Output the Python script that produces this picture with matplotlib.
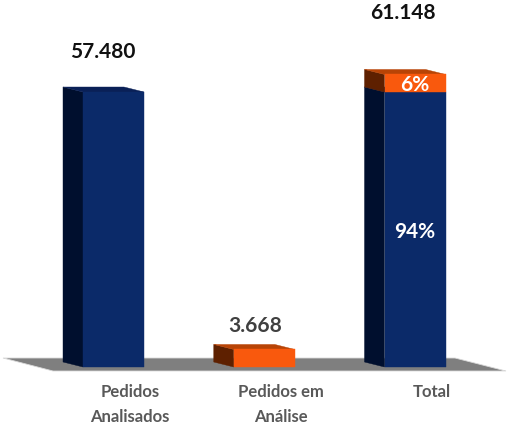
import matplotlib.pyplot as plt
from matplotlib.patches import Polygon

plt.rcParams['font.family'] = ['Lato', 'DejaVu Sans']

# Dados
categorias = ["Pedidos\nAnalisados", "Pedidos em\nAnálise", "Total"]
analisados = [57480, 0, 57480]
em_analise = [0, 3668, 3668]
rotulos_total = ["57.480", "3.668", "61.148"]
pct_total = ["94%", "6%"]

AZUL = ("#0b2a69", "#000f2e", "#0a2057")
LARANJA = ("#f9590d", "#5e2000", "#b84406")

# escala: 1 px em unidades de dados
px_x = 1 / 150.75
px_y = 57480 / 275

largura = 61 * px_x
prof_x = 20 * px_x
prof_y = 5 * px_y

# distância (px) dos rótulos até o topo de cada barra
folga_rotulo = [40, 23, 61]
desvio_rotulo = [-11, -9, -12]
cor_rotulo = ["#111111", "#404040", "#111111"]


def bloco(ax, x, base, topo, cores, zorder=3):
    frente, lado, cima = cores
    esq = x - largura / 2
    dir_ = x + largura / 2
    ax.add_patch(Polygon([(esq - prof_x, base + prof_y), (esq, base), (esq, topo), (esq - prof_x, topo + prof_y)],
                         fc=lado, ec=lado, lw=0.3, zorder=zorder))
    ax.add_patch(Polygon([(esq - prof_x, topo + prof_y), (dir_ - prof_x, topo + prof_y), (dir_, topo), (esq, topo)],
                         fc=cima, ec=cima, lw=0.3, zorder=zorder))
    ax.add_patch(Polygon([(esq, base), (dir_, base), (dir_, topo), (esq, topo)],
                         fc=frente, ec=frente, lw=0.3, zorder=zorder + 0.1))


fig = plt.figure(figsize=(5.07, 4.26), dpi=100)
ax = fig.add_axes([0, 0, 1, 1])
ax.set_xlim(-113.5 * px_x, (507 - 113.5) * px_x)
ax.set_ylim(-59 * px_y, 367 * px_y)
ax.axis("off")

# chão cinza
ax.add_patch(Polygon([(-110.5 * px_x, 9 * px_y), (341.5 * px_x, 9 * px_y),
                      (392.5 * px_x, -4 * px_y), (-60.5 * px_x, -4 * px_y)],
                     fc="#7f7f7f", ec="#d9d9d9", lw=0.6, zorder=1))

for i, (a, b) in enumerate(zip(analisados, em_analise)):
    if a:
        bloco(ax, i, 0, a, AZUL, zorder=3)
    if b:
        bloco(ax, i, a, a + b, LARANJA, zorder=4)
    # rótulo da categoria
    ax.text(i + 16.5 * px_x, -17 * px_y, categorias[i], ha="center", va="top",
            fontsize=12, fontweight="bold", color="#595959", linespacing=1.7)

# rótulos de valor acima das barras
for i, (a, b) in enumerate(zip(analisados, em_analise)):
    ax.text(i + desvio_rotulo[i] * px_x, a + b + folga_rotulo[i] * px_y, rotulos_total[i],
            ha="center", va="center", fontsize=15, fontweight="bold", color=cor_rotulo[i], zorder=6)

# percentuais na barra Total
ax.text(2, analisados[2] / 2 - 2 * px_y, pct_total[0], ha="center", va="center",
        fontsize=15, fontweight="bold", color="white", zorder=6)
ax.text(2, analisados[2] + em_analise[2] / 2 - 2 * px_y, pct_total[1], ha="center", va="center",
        fontsize=15, fontweight="bold", color="white", zorder=6)

fig.savefig("out.png", dpi=100)
